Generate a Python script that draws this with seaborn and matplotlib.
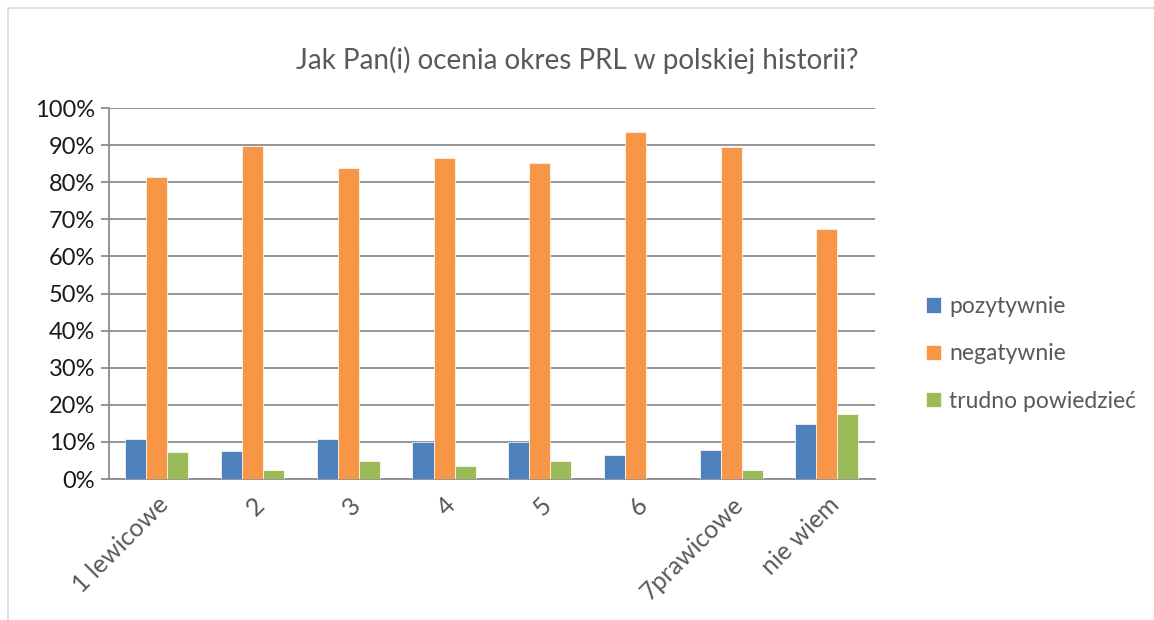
import matplotlib
matplotlib.use("Agg")
import matplotlib.pyplot as plt
from matplotlib.patches import Rectangle
from matplotlib.ticker import PercentFormatter, FixedLocator
import seaborn as sns
import pandas as pd
import numpy as np

# ======================
# DATA
# ======================
categories = ["1 lewicowe", "2", "3", "4", "5", "6", "7prawicowe", "nie wiem"]
series = ["pozytywnie", "negatywnie", "trudno powiedzieć"]
pozytywnie = [0.109, 0.076, 0.109, 0.099, 0.099, 0.065, 0.077, 0.148]
negatywnie = [0.815, 0.898, 0.839, 0.864, 0.851, 0.934, 0.895, 0.674]
trudno = [0.072, 0.023, 0.049, 0.035, 0.048, 0.0, 0.025, 0.176]
colors = ["#4F81BD", "#F79646", "#9BBB59"]

df = pd.DataFrame({
    "kategoria": categories * 3,
    "odpowiedz": [s for s in series for _ in categories],
    "wartosc": pozytywnie + negatywnie + trudno,
})

# ======================
# PLOT
# ======================
sns.set_style("white")
plt.rcParams["font.family"] = ["Lato", "DejaVu Sans"]

fig = plt.figure(figsize=(11.54, 6.2), dpi=100)
ax = fig.add_axes([0.0945, 0.2274, 0.6635, 0.5984])

sns.barplot(data=df, x="kategoria", y="wartosc", hue="odpowiedz",
            palette=colors, width=0.66, saturation=1,
            edgecolor="white", linewidth=0.5, ax=ax, zorder=3)

ax.set_ylim(0, 1)
ax.set_xlim(-0.5, len(categories) - 0.5)
ax.yaxis.set_major_locator(FixedLocator(np.arange(0, 1.01, 0.1)))
ax.yaxis.set_major_formatter(PercentFormatter(1.0, decimals=0))
ax.grid(axis="y", color="#8c8c8c", linewidth=1.3, zorder=0)

# tick marks between categories
ax.set_xticks(np.arange(-0.5, len(categories), 1.0), minor=True)
ax.tick_params(axis="x", which="major", length=0, pad=10)
ax.tick_params(axis="x", which="minor", length=6, width=1.3, color="#8c8c8c")
ax.tick_params(axis="y", length=6, width=1.3, color="#8c8c8c", labelsize=17,
               labelcolor="#1a1a1a", left=True, pad=4)
for lbl in ax.get_xticklabels():
    lbl.set_rotation(45)
    lbl.set_ha("right")
    lbl.set_va("top")
    lbl.set_rotation_mode("anchor")
    lbl.set_fontsize(18)
    lbl.set_color("#595959")

for side in ["top", "right"]:
    ax.spines[side].set_visible(False)
for side in ["left", "bottom"]:
    ax.spines[side].set_color("#8c8c8c")
    ax.spines[side].set_linewidth(1.3)

ax.set_xlabel("")
ax.set_ylabel("")

fig.text(0.5, 0.903, "Jak Pan(i) ocenia okres PRL w polskiej historii?",
         ha="center", va="center", fontsize=20, color="#595959")

leg = ax.legend(loc="center left", bbox_to_anchor=(1.04, 0.337), frameon=False,
                fontsize=16.5, handlelength=0.65, handleheight=0.65,
                handletextpad=0.35, labelspacing=1.15, labelcolor="#595959")

# light chart border
fig.patches.append(Rectangle((8 / 1154, -0.05), 1.2, 1.0 - 8 / 620 + 0.05,
                             transform=fig.transFigure, fill=False,
                             edgecolor="#d9d9d9", linewidth=1.2))

fig.savefig("out.png", dpi=100)
